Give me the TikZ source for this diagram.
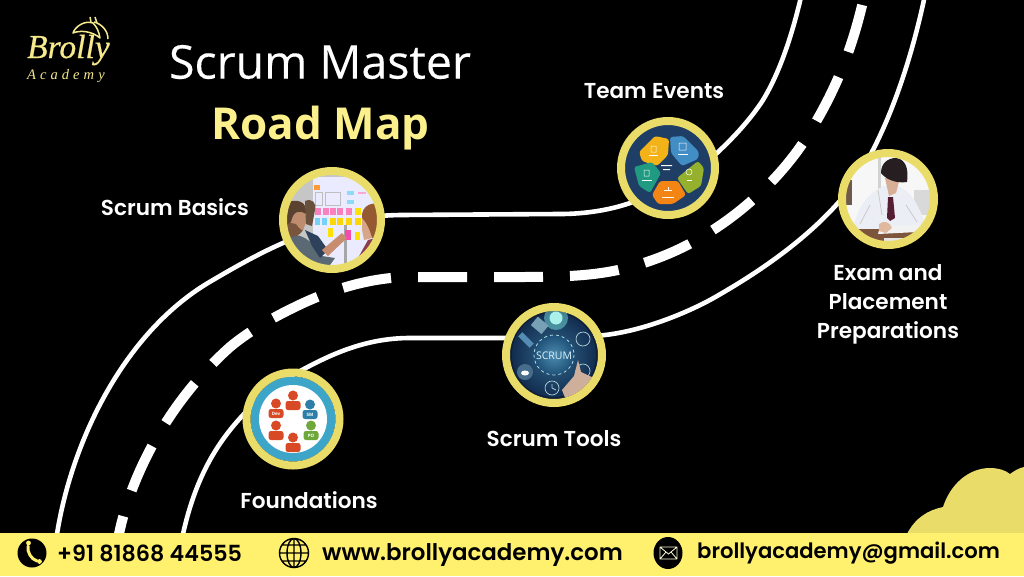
\documentclass[tikz,border=0pt]{standalone}
\usepackage{fontspec}
\setmainfont{Open Sans}
\newfontfamily\pop[UprightFont=* SemiBold]{Poppins}
\newfontfamily\logoA{Liberation Serif}[UprightFont=*,ItalicFont=* Italic]
\newfontfamily\logoB{Liberation Serif}[LetterSpace=28]
\usetikzlibrary{calc}
\definecolor{ring}{HTML}{E9DC68}
\definecolor{bar}{HTML}{FFF06E}
\definecolor{title}{HTML}{FBF08C}
\definecolor{logoc}{HTML}{F6EA8C}
\definecolor{navy}{HTML}{1F3E66}
\definecolor{pred}{HTML}{D84A26}
\definecolor{pblue}{HTML}{2D7FA8}
\definecolor{pgreen}{HTML}{6FA83A}
\definecolor{note}{HTML}{F982BE}
\tikzset{
  x=1pt,y=-1pt,
  roadedge/.style={draw=white,line width=4.6pt,line cap=butt},
  roadmid/.style={draw=white,line width=10pt,dash pattern=on 49pt off 27pt},
  stop/.style={circle,draw=ring,line width=8pt,minimum size=#1,inner sep=0pt,outer sep=0pt},
  lab/.style={text=white,font=\pop\fontsize{21.6}{29}\selectfont,align=center,inner sep=0pt},
  foot/.style={text=black,font=\pop\fontsize{21}{25}\selectfont,inner sep=0pt,anchor=west},
}
\begin{document}
\begin{tikzpicture}
\useasboundingbox (0,0) rectangle (1024,576);
\fill[black] (0,0) rectangle (1024,576);
% road
\draw[roadedge] (57,534) .. controls (72,440) and (125,330) .. (213,280) .. controls (235,267) and (260,253) .. (283,243) .. controls (320,226) and (350,216) .. (400,215) -- (560,214) .. controls (585,214) and (610,210) .. (630,203) .. controls (665,191) and (695,175) .. (718,152) .. controls (733,138) and (750,120) .. (763,100) .. controls (780,72) and (792,35) .. (801,-3);
\draw[roadedge] (183,534) .. controls (195,480) and (215,445) .. (243,415) .. controls (262,395) and (283,379) .. (302,370) .. controls (330,355) and (365,338) .. (410,338) -- (505,338) .. controls (540,338) and (570,339) .. (605,335) .. controls (640,331) and (680,316) .. (710,300) .. controls (760,272) and (805,240) .. (838,203) .. controls (872,165) and (905,90) .. (925,-5);
% centre line, dashed outwards from the gap at x=404
\draw[roadmid] (418,277) -- (520,277) .. controls (560,277) and (590,276) .. (618,270) .. controls (650,263) and (680,250) .. (700,238) .. controls (745,212) and (790,170) .. (817,120) .. controls (840,80) and (855,40) .. (866,-12);
\draw[roadmid] (391,278) .. controls (360,281) and (325,292) .. (295,307) .. controls (280,314) and (250,330) .. (230,347) .. controls (165,405) and (130,480) .. (119,534);
% cloud
\fill[ring] (907,534) .. controls (915,518) and (928,510) .. (943,507) .. controls (950,485) and (968,468) .. (990,468) .. controls (998,468) and (1005,470) .. (1010,474) .. controls (1014,471) and (1019,468) .. (1024,467) -- (1024,534) -- cycle;
% footer
\fill[bar] (0,533) rectangle (1024,576);
% circles: contents
\begin{scope}
  \clip (332,220) circle (46);
  \fill[gray!45] (280,170) rectangle (385,270);
  \fill[white!92!blue] (313,177) rectangle (384,270);
  \fill[gray!70] (344,225) rectangle (347,270);
  \fill[orange!80] (314,185) rectangle (320,190);
  \foreach \x in {315,323,330,337,346}{\fill[note] (\x,208) rectangle +(6,7);}
  \foreach \x in {315,322}{\fill[cyan!55] (\x,218) rectangle +(5,7);}
  \foreach \x in {330,337,346,355}{\fill[yellow!75!orange] (\x,218) rectangle +(6,7);}
  \foreach \x in {355}{\fill[yellow!85!orange] (\x,232) rectangle +(5,8);}
  \fill[yellow!85!orange] (355,208) rectangle +(6,7);
  \fill[magenta!70] (345,230) rectangle +(6,10);
  \fill[yellow!85!orange] (328,228) rectangle +(5,9);
  \foreach \x/\y in {347/191,347/200}{\fill[cyan!45] (\x,\y) rectangle +(7,4);}
  \fill[note!70] (358,192) rectangle +(8,2);
  \draw[gray!50,line width=.6pt] (315,192) rectangle (322,205) (325,192) rectangle (340,205);
  % left man
  \fill[color={rgb,255:red,90;green,105;blue,115}] (285,235) .. controls (300,232) and (312,240) .. (322,256) -- (335,258) -- (325,272) -- (285,272) -- cycle;
  \fill[color={rgb,255:red,45;green,65;blue,90}] (305,230) -- (318,236) -- (328,250) -- (320,258) -- (312,246) -- cycle;
  \fill[color={rgb,255:red,200;green,140;blue,110}] (322,250) -- (342,233) -- (347,238) -- (328,256) -- cycle;
  \fill[color={rgb,255:red,190;green,140;blue,110}] (286,208) .. controls (298,204) and (308,210) .. (306,222) .. controls (304,232) and (295,238) .. (286,236) -- cycle;
  \fill[color={rgb,255:red,120;green,85;blue,60}] (286,222) -- (296,224) .. controls (300,230) and (303,232) .. (304,228) .. controls (300,237) and (292,238) .. (286,236) -- cycle;
  \fill[color={rgb,255:red,90;green,65;blue,48}] (286,203) .. controls (296,198) and (308,201) .. (306,214) .. controls (298,209) and (293,212) .. (291,222) -- (286,225) -- cycle;
  \fill[color={rgb,255:red,105;green,80;blue,60}] (305,201) .. controls (312,198) and (317,203) .. (315,210) -- (312,226) -- (306,224) -- cycle;
  % right woman
  \fill[color={rgb,255:red,150;green,90;blue,50}] (362,214) .. controls (364,202) and (380,200) .. (384,210) -- (384,240) -- (372,238) .. controls (368,228) and (366,222) .. (362,220) -- cycle;
  \fill[color={rgb,255:red,215;green,165;blue,135}] (362,218) .. controls (366,222) and (370,230) .. (372,238) -- (364,240) -- (362,230) -- cycle;
  \fill[color={rgb,255:red,140;green,60;blue,80}] (358,258) -- (368,240) -- (384,236) -- (384,272) -- (356,272) -- cycle;
\end{scope}
\begin{scope}
  \clip (668,168) circle (44);
  \fill[navy] (620,120) rectangle (716,216);
  \fill[color={rgb,255:red,243;green,178;blue,24},rounded corners=2.5pt] (639,152) -- (655,136) -- (669,139) -- (668,155) -- (657,166) -- (642,161) -- cycle;
  \fill[color={rgb,255:red,66;green,142;blue,196},rounded corners=2.5pt] (670,137) -- (683,136) -- (699,152) -- (698,159) -- (682,166) -- (671,153) -- cycle;
  \fill[color={rgb,255:red,148;green,176;blue,44},rounded corners=2.5pt] (677,178) -- (698,161) -- (704,168) -- (701,186) -- (688,194) -- cycle;
  \fill[color={rgb,255:red,243;green,133;blue,20},rounded corners=2.5pt] (660,181) -- (678,181) -- (686,195) -- (673,204) -- (658,204) -- (652,195) -- cycle;
  \fill[color={rgb,255:red,32;green,155;blue,130},rounded corners=2.5pt] (634,167) -- (652,162) -- (661,173) -- (650,193) -- (639,186) -- cycle;
  \draw[white,line width=.5pt] (651,146) rectangle (656,152) (679,143) rectangle (686,150) (689,172) circle (3) (644,170) rectangle (649,176);
  \draw[white,line width=.6pt] (664,190) -- (672,190) (668,187) -- (668,190);
  \draw[white,line width=.4pt] (649,155) -- (658,155) (678,154) -- (688,154) (687,180) -- (692,180) (642,180) -- (652,180) (662,197) -- (674,197);
  \fill[white] (661,165) rectangle (672,166.2) (663,169) rectangle (670,170);
\end{scope}
\begin{scope}
  \clip (888,199) circle (43);
  \fill[white!94!gray] (840,150) rectangle (940,250);
  \fill[gray!35] (878,155) rectangle (881,190);
  \fill[gray!30] (914,190) rectangle (930,215);
  \fill[color={rgb,255:red,110;green,90;blue,75}] (845,180) rectangle (852,205);
  \fill[color={rgb,255:red,236;green,238;blue,246}] (852,232) .. controls (858,205) and (868,193) .. (884,186) -- (898,186) .. controls (912,192) and (918,205) .. (926,225) -- (926,235) -- (853,235) -- cycle;
  \draw[gray!45,line width=.7pt] (860,224) -- (870,205) (917,222) -- (906,205) (878,190) -- (882,215);
  \fill[color={rgb,255:red,85;green,30;blue,50}] (888,197) -- (893,197) -- (895,218) -- (890,221) -- (887,218) -- cycle;
  \fill[color={rgb,255:red,125;green,85;blue,60}] (855,229) -- (925,229) -- (920,242) -- (860,242) -- cycle;
  \fill[white!90!gray] (880,226) -- (922,225) -- (918,232) -- (878,234) -- cycle;
  \fill[color={rgb,255:red,225;green,185;blue,160}] (879,224) .. controls (884,220) and (890,222) .. (892,228) -- (886,233) -- (879,231) -- cycle;
  \fill[gray!20] (884,238) rectangle (905,250);
  \fill[color={rgb,255:red,215;green,175;blue,150}] (885,178) -- (900,178) -- (896,193) -- (889,196) -- cycle;
  \fill[color={rgb,255:red,38;green,30;blue,32}] (881,173) .. controls (881,163) and (888,158) .. (896,158) .. controls (905,159) and (909,168) .. (907,182) .. controls (900,183) and (888,182) .. (881,173) -- cycle;
\end{scope}
\begin{scope}
  \clip (554,355) circle (44);
  \fill[color={rgb,255:red,16;green,32;blue,58}] (505,305) rectangle (605,405);
  \shade[inner color={rgb,255:red,50;green,105;blue,140},outer color={rgb,255:red,18;green,45;blue,80}] (554,355) circle (42);
  \fill[color={rgb,255:red,120;green,225;blue,225},opacity=.5] (556,318) circle (12);
  \fill[color={rgb,255:red,170;green,240;blue,235}] (556,318) circle (6.5);
  \shade[inner color={rgb,255:red,78;green,140;blue,175},outer color={rgb,255:red,30;green,80;blue,120}] (554,355) circle (20);
  \draw[color={rgb,255:red,175;green,220;blue,230},dashed,line width=.8pt] (554,355) circle (20);
  \draw[color={rgb,255:red,180;green,210;blue,220},line width=.7pt] (583,339) circle (7) (583,371) circle (7) (552,388) circle (7);
  \draw[color={rgb,255:red,180;green,210;blue,220},line width=.7pt] (552,388) -- (552,384) (552,388) -- (556,390);
  \fill[color={rgb,255:red,70;green,110;blue,140}] (525,372) circle (8);
  \fill[white] (525,373) ellipse (4 and 2.5);
  \fill[color={rgb,255:red,85;green,140;blue,180},rotate around={-45:(526,340)}] (518,337) rectangle (534,343);
  \fill[color={rgb,255:red,120;green,160;blue,180},rotate around={-40:(540,325)}] (533,320) rectangle (547,331);
  \fill[color={rgb,255:red,205;green,175;blue,155}] (562,390) -- (574,376) -- (578,360) -- (581,372) -- (594,378) -- (590,395) -- (566,400) -- cycle;
  \node[text=white!85!cyan,font=\fontsize{10.5}{11}\selectfont,inner sep=0pt] at (554,356) {SCRUM};
\end{scope}
\begin{scope}
  \clip (293,419) circle (42.5);
  \fill[color={rgb,255:red,60;green,165;blue,200}] (293,419) circle (43);
  \fill[white] (293,419) circle (34);
  \foreach \px/\py/\pc in {276/409/pred,293/401/pred,276/431/pred,293/443/pred,310/410/pblue,311/431/pgreen}{\fill[\pc] (\px,\py-5.5) circle (5); \fill[\pc,rounded corners=2.5pt] (\px-7.5,\py) rectangle (\px+7.5,\py+9);}
  \node[text=white,font=\fontsize{4.5}{5}\selectfont\bfseries,inner sep=0pt] at (276,414) {Dev};
  \node[text=white,font=\fontsize{4.5}{5}\selectfont\bfseries,inner sep=0pt] at (310,415) {SM};
  \node[text=white,font=\fontsize{4.5}{5}\selectfont\bfseries,inner sep=0pt] at (311,436) {PO};
\end{scope}
% stop rings
\node[stop=98pt] (basics) at (332,220) {};
\node[stop=94pt] (events) at (668,168) {};
\node[stop=92pt] (exam) at (888,199) {};
\node[stop=96pt] (tools) at (554,355) {};
\node[stop=93pt] (found) at (293,419) {};
% labels
\node[lab] (lbasics) at (175,207) {Scrum Basics};
\node[lab] (levents) at (654,91) {Team Events};
\node[lab] (lexam) at (888,304) {Exam and\\Placement\\Preparations};
\node[lab] (ltools) at (554,439) {Scrum Tools};
\node[lab] (lfound) at (309,500) {Foundations};
% title
\node[text=white,font=\fontsize{46.5}{50}\selectfont\addfontfeature{FakeBold=0.25},inner sep=0pt] (t1) at (320,62) {Scrum Master};
\node[text=title,font=\fontsize{44}{50}\selectfont\bfseries,inner sep=0pt] (t2) at (320.5,128) {Road Map};
% logo
\node[text=logoc,font=\logoA\itshape\fontsize{33.5}{34}\selectfont\addfontfeature{FakeBold=0.6},inner sep=0pt,anchor=west] (lg1) at (27,50) {Brolly};
\node[text=logoc,font=\logoB\itshape\fontsize{14.5}{15}\selectfont,inner sep=0pt,anchor=west] (lg2) at (27,76) {Academy};
\draw[logoc,line width=1.5pt,line join=round] (73,33) .. controls (75,27) and (84,20) .. (93,23) .. controls (97,27) and (99,32) .. (100,38) .. controls (92,31) and (80,30) .. (73,33) -- cycle;
\draw[logoc,line width=1.5pt] (94,22) .. controls (102,24) and (108,31) .. (108,39) (90,17) -- (91,22) (95,17) -- (97,23);
% footer icons
\fill[black] (32,553) circle (14.5);
\draw[bar,line width=3pt,line cap=round] (28,546) .. controls (27,552) and (31,559) .. (37,561);
\fill[bar] (28.5,543) circle (2.4) (39.5,561.5) circle (2.4);
\draw[black,line width=1.4pt] (294,553) circle (14.5) (294,553) ellipse (7 and 14.5) (294,538.5) -- (294,567.5) (280,553) -- (308,553) (282,545) -- (306,545) (282,561) -- (306,561);
\fill[black] (668,553) ellipse (14.5 and 16);
\draw[white!85!yellow,line width=.8pt] (660,547) rectangle (677,559) (660,547) -- (668.5,554) -- (677,547) (660,559) -- (666,552) (677,559) -- (671,552);
\node[foot,font=\pop\fontsize{22.2}{25}\selectfont] (phone) at (57,553) {+91 81868 44555};
\node[foot,font=\pop\fontsize{22.9}{25}\selectfont] (web) at (322,555) {www.brollyacademy.com};
\node[foot,font=\pop\fontsize{21.1}{25}\selectfont] (mail) at (697,553) {brollyacademy@gmail.com};
\end{tikzpicture}
\end{document}
